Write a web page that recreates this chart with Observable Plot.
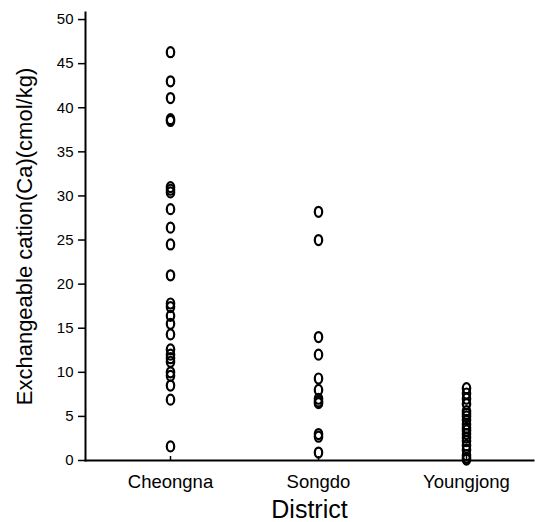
<!DOCTYPE html>
<html>
<head>
<meta charset="utf-8">
<script src="https://cdn.jsdelivr.net/npm/d3@7"></script>
<script src="https://cdn.jsdelivr.net/npm/@observablehq/plot@0.6"></script>
<style>
  html, body { margin: 0; padding: 0; background: #fff; }
  #chart svg { font-family: "Liberation Sans", Arial, sans-serif; }
</style>
</head>
<body>
<div id="chart"></div>
<script>
const districts = ["Cheongna", "Songdo", "Youngjong"];
const cheongnaValues = [46.3, 43.0, 41.1, 38.7, 38.5, 31.0, 30.7, 30.4, 28.5, 26.4, 24.5, 21.0, 17.8, 17.4, 16.4, 15.5, 14.3, 12.6, 12.0, 11.6, 11.2, 10.0, 9.6, 8.5, 6.9, 1.6];
const songdoValues = [28.2, 25.0, 14.0, 12.0, 9.3, 8.0, 7.0, 6.7, 6.5, 3.0, 2.7, 0.9];
const youngjongValues = [8.2, 7.6, 7.0, 6.4, 5.6, 5.3, 5.0, 4.6, 4.1, 3.7, 3.4, 3.0, 2.6, 2.2, 1.7, 1.2, 0.6, 0.3, 0.1];
const yTicks = [0, 5, 10, 15, 20, 25, 30, 35, 40, 45, 50];

const seriesValues = [cheongnaValues, songdoValues, youngjongValues];
const data = districts.flatMap((d, i) => seriesValues[i].map(v => ({district: d, value: v})));

const ellipse = {
  draw(ctx) {
    const rx = 3.7, ry = 5.0, k = 0.5523;
    ctx.moveTo(rx, 0);
    ctx.bezierCurveTo(rx, ry * k, rx * k, ry, 0, ry);
    ctx.bezierCurveTo(-rx * k, ry, -rx, ry * k, -rx, 0);
    ctx.bezierCurveTo(-rx, -ry * k, -rx * k, -ry, 0, -ry);
    ctx.bezierCurveTo(rx * k, -ry, rx, -ry * k, rx, 0);
    ctx.closePath();
  }
};

const chart = Plot.plot({
  width: 535,
  height: 522,
  marginLeft: 85,
  marginRight: 2,
  marginTop: 12,
  marginBottom: 62,
  style: {fontFamily: "Liberation Sans, Arial, sans-serif", color: "#000", background: "#fff"},
  x: {type: "point", domain: districts, range: [170, 466], padding: 0},
  y: {domain: [0, 50.8]},
  marks: [
    Plot.frame({anchor: "left", stroke: "#000", strokeWidth: 2}),
    Plot.frame({anchor: "bottom", stroke: "#000", strokeWidth: 2}),
    Plot.axisY({ticks: yTicks, tickSize: 7, tickPadding: 5, fontSize: 15, label: null, strokeWidth: 1.5}),
    Plot.axisY({ticks: [], label: "Exchangeable cation(Ca)(cmol/kg)", labelAnchor: "center", labelArrow: "none", labelOffset: 69, fontSize: 22}),
    Plot.axisX({tickSize: -4, tickPadding: 18, fontSize: 18.5, label: null, strokeWidth: 1.5}),
    Plot.axisX({ticks: [], label: "District", labelAnchor: "center", labelArrow: "none", labelOffset: 57, fontSize: 25}),
    Plot.dot(data, {x: "district", y: "value", symbol: ellipse, stroke: "#000", strokeWidth: 2.2, fill: "none"})
  ]
});
document.getElementById("chart").appendChild(chart);
</script>
</body>
</html>
